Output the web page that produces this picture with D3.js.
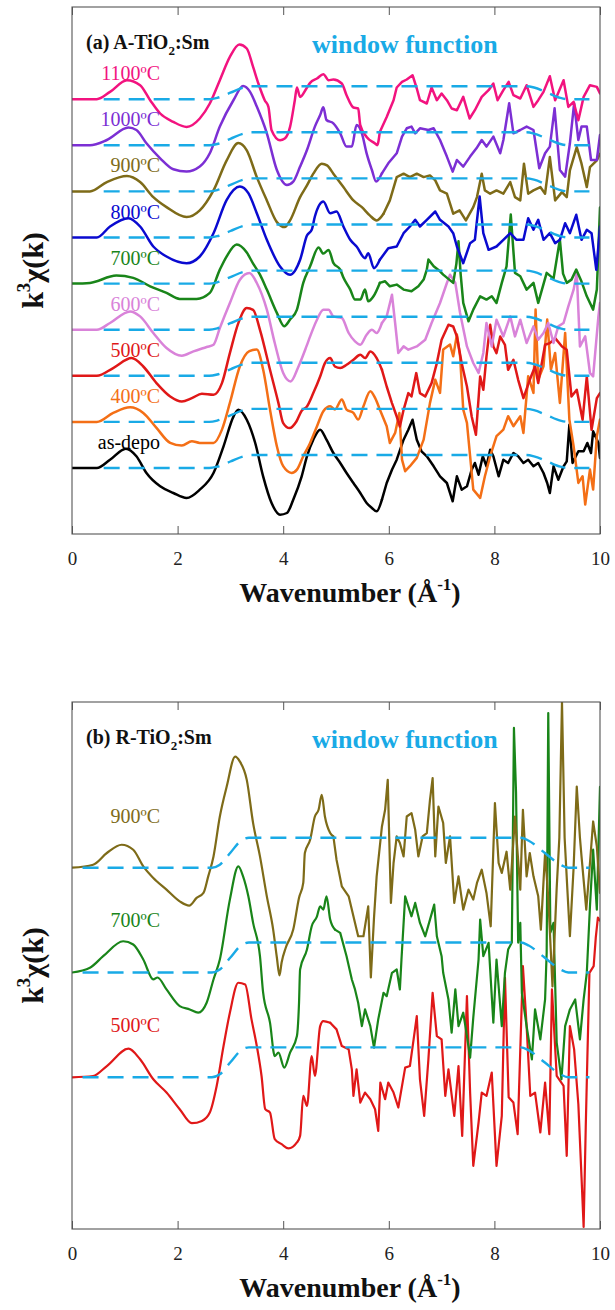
<!DOCTYPE html>
<html>
<head>
<meta charset="utf-8">
<script src="https://cdn.jsdelivr.net/npm/d3@7"></script>
<style>
  body { margin: 0; background: #fff; }
  svg { display: block; }
  text { font-family: 'Liberation Serif', 'Times New Roman', Times, serif; }
</style>
</head>
<body>
<svg id="chart" width="615" height="1310"></svg>
<script>
// ---------- data: [k (1/Å), k³χ(k) in arbitrary units] ----------
const kTicks = [0, 2, 4, 6, 8, 10];

// Hanning-type window function: [k, relative weight]
const windowFn = [[0.6,0],[2.6,0],[2.75,0.1],[3.0,0.5],[3.25,0.9],[3.4,1],[8.6,1],[8.75,0.9],[9.0,0.5],[9.25,0.1],[9.4,0],[9.8,0]];
const windowFnB = [[0.2,0],[2.65,0],[2.8,0.1],[3.0,0.5],[3.2,0.9],[3.35,1],[8.5,1],[8.65,0.9],[8.95,0.5],[9.25,0.1],[9.4,0],[9.8,0]];

// (a) anatase, bottom to top
const aLabels = ["as-depo", "400\u00baC", "500\u00baC", "600\u00baC", "700\u00baC", "800\u00baC", "900\u00baC", "1000\u00baC", "1100\u00baC"];

const aDepo = [[0,0],[0.47,0],[0.72,0.83],[1.02,1.93],[1.22,1.17],[1.41,-0.5],[1.67,-1.83],[1.92,-2.5],[2.17,-3.0],[2.42,-2.17],[2.68,-0.5],[2.87,2.17],[3.06,5.17],[3.15,5.83],[3.31,4.83],[3.47,2.5],[3.62,-0.83],[3.78,-3.5],[3.94,-4.67],[4.07,-4.5],[4.19,-3.17],[4.35,-0.83],[4.45,1.17],[4.57,2.83],[4.7,3.83],[4.82,2.83],[4.95,1.5],[5.08,0.5],[5.2,-0.5],[5.33,-1.5],[5.46,-2.5],[5.58,-3.5],[5.68,-4.0],[5.77,-4.33],[5.87,-3.17],[5.96,-1.5],[6.06,-0.17],[6.15,0.83],[6.28,2.83],[6.37,3.83],[6.45,4.83],[6.53,2.83],[6.62,1.67],[6.72,1.17],[6.85,0.17],[6.97,-0.83],[7.1,-1.5],[7.21,-3.33],[7.29,-0.83],[7.38,-2.17],[7.48,-1.83],[7.57,-0.17],[7.63,0.5],[7.7,-0.67],[7.78,1.17],[7.85,0.17],[7.92,1.83],[7.98,1.17],[8.08,-0.83],[8.17,0.83],[8.26,0.5],[8.36,1.5],[8.45,1.17],[8.55,0.5],[8.64,0.83],[8.74,0.17],[8.83,0.5],[8.93,-0.5],[9.0,-1.5],[9.05,-2.5],[9.12,0.17],[9.21,-1.17],[9.31,0.17],[9.37,0.67],[9.42,4.33],[9.48,0.5],[9.59,1.67],[9.69,1.67],[9.76,2.5],[9.83,1.5],[9.87,3.67],[9.97,2.5],[10,1.0]];

const a400 = [[0,0],[0.47,0],[0.78,0.9],[1.1,1.47],[1.35,0.9],[1.6,-0.6],[1.86,-2.1],[2.08,-2.37],[2.27,-1.93],[2.42,-2.1],[2.68,-2.1],[2.84,-0.77],[2.99,1.9],[3.18,5.57],[3.36,7.07],[3.5,7.23],[3.62,5.23],[3.75,1.23],[3.88,-2.43],[4.0,-4.43],[4.16,-5.1],[4.26,-4.77],[4.38,-3.43],[4.51,-2.1],[4.64,-0.43],[4.76,1.07],[4.89,1.57],[4.98,1.23],[5.11,2.23],[5.2,1.23],[5.33,0.9],[5.42,0.23],[5.52,1.57],[5.65,3.07],[5.74,2.4],[5.83,1.23],[5.96,-0.43],[6.02,-2.1],[6.12,-1.1],[6.2,0.9],[6.25,-3.77],[6.31,-4.93],[6.4,-4.43],[6.53,-3.6],[6.66,-1.77],[6.78,1.9],[6.88,4.23],[6.97,2.9],[7.03,7.23],[7.16,7.73],[7.22,6.57],[7.29,8.73],[7.35,6.57],[7.41,1.23],[7.48,-0.1],[7.54,-3.43],[7.6,-6.77],[7.73,-7.6],[7.82,-5.43],[7.92,-3.43],[8.04,-1.43],[8.17,-0.77],[8.26,0.57],[8.36,-0.43],[8.49,0.57],[8.55,-1.1],[8.64,4.57],[8.74,2.9],[8.78,11.23],[8.83,4.23],[8.93,5.57],[9.0,10.23],[9.07,5.23],[9.15,6.9],[9.24,1.9],[9.34,8.9],[9.42,0.23],[9.5,-2.43],[9.59,-6.1],[9.67,-5.43],[9.72,-8.27],[9.81,-4.77],[9.87,-6.77],[9.94,-1.43],[10,0.23]];

const a500 = [[0,0],[0.47,0],[0.78,0.77],[1.13,1.77],[1.35,0.93],[1.6,-0.73],[1.86,-2.07],[2.08,-2.57],[2.27,-2.23],[2.46,-1.8],[2.68,-1.9],[2.84,-0.73],[2.99,2.27],[3.15,5.27],[3.31,6.77],[3.43,6.6],[3.56,4.6],[3.75,0.6],[3.91,-2.73],[4.0,-4.73],[4.12,-5.23],[4.25,-4.57],[4.35,-3.5],[4.45,-3.07],[4.57,-1.73],[4.7,-0.07],[4.79,1.27],[4.89,1.77],[4.98,0.93],[5.08,0.77],[5.2,1.1],[5.33,1.6],[5.46,2.1],[5.55,1.77],[5.65,2.43],[5.77,1.77],[5.87,0.6],[5.96,-1.07],[6.06,-2.73],[6.15,-4.07],[6.21,-5.07],[6.28,-3.4],[6.37,-1.73],[6.43,-2.07],[6.52,0.27],[6.59,-1.73],[6.69,-2.07],[6.81,-0.73],[6.91,1.27],[7.0,3.6],[7.13,5.1],[7.22,4.93],[7.29,3.93],[7.38,1.27],[7.48,-1.07],[7.57,-4.07],[7.65,-5.9],[7.73,-0.07],[7.79,-1.4],[7.85,1.93],[7.92,5.1],[7.98,2.93],[8.04,2.27],[8.11,3.93],[8.2,3.1],[8.26,0.6],[8.36,1.6],[8.45,-0.4],[8.55,-2.23],[8.67,-0.4],[8.77,0.93],[8.83,-0.73],[8.96,3.1],[9.05,3.27],[9.15,3.77],[9.28,2.93],[9.37,2.6],[9.46,-2.07],[9.56,-1.4],[9.67,-4.4],[9.75,-0.07],[9.84,-5.4],[9.94,-2.23],[10,-1.73]];

const a600 = [[0,0],[0.47,0],[0.72,0.67],[1.1,1.83],[1.29,1.33],[1.54,-0.33],[1.79,-1.83],[2.08,-2.6],[2.3,-2.17],[2.55,-1.73],[2.68,-1.5],[2.8,0.17],[2.99,2.67],[3.18,5.0],[3.36,5.67],[3.5,4.67],[3.69,2.0],[3.84,-1.33],[4.0,-4.33],[4.14,-5.17],[4.29,-3.67],[4.44,-1.67],[4.51,-0.67],[4.64,1.0],[4.76,2.0],[4.86,2.0],[4.95,1.33],[5.11,1.17],[5.24,-0.33],[5.36,-1.17],[5.46,-1.5],[5.58,-0.5],[5.68,0],[5.77,-0.33],[5.87,0.67],[5.96,1.33],[6.06,3.5],[6.12,0.67],[6.18,-2.33],[6.28,-1.67],[6.37,-2.0],[6.53,-1.67],[6.69,-1.0],[6.81,0.67],[6.97,2.67],[7.1,4.67],[7.16,5.5],[7.26,4.67],[7.35,1.67],[7.48,-1.67],[7.6,-3.33],[7.7,-4.33],[7.79,-2.33],[7.85,0.67],[7.95,-1.67],[8.04,1.0],[8.17,-0.67],[8.3,1.33],[8.39,-0.67],[8.49,1.0],[8.61,-1.33],[8.74,0.33],[8.83,-1.0],[8.93,-0.33],[9.02,0.67],[9.12,-1.33],[9.21,0.33],[9.31,0.67],[9.4,2.33],[9.5,4.0],[9.56,5.7],[9.62,-1.67],[9.72,-0.67],[9.81,-4.33],[9.87,-4.67],[9.97,1.33],[10,2.67]];

const a700 = [[0,0],[0.34,0.07],[0.84,0.8],[1.16,0.57],[1.48,-0.27],[1.79,-0.93],[2.04,-1.53],[2.36,-1.53],[2.61,-0.93],[2.8,1.4],[2.93,2.73],[3.12,3.9],[3.31,3.1],[3.43,2.0],[3.56,0.9],[3.69,-0.6],[3.88,-2.93],[4.02,-4.27],[4.13,-3.6],[4.26,-2.6],[4.38,0.07],[4.51,1.73],[4.67,3.6],[4.76,3.0],[4.86,3.37],[4.95,2.07],[5.08,1.4],[5.14,0.6],[5.27,-0.6],[5.36,-1.6],[5.46,-1.6],[5.55,-0.6],[5.61,-1.77],[5.71,-1.27],[5.83,0.07],[5.93,0.23],[6.02,-0.27],[6.15,-0.1],[6.28,-0.6],[6.43,-0.77],[6.56,-0.27],[6.66,0.4],[6.72,1.4],[6.75,2.4],[6.85,1.73],[6.97,1.23],[7.03,0.9],[7.22,0.07],[7.28,2.0],[7.32,4.23],[7.36,1.0],[7.41,-1.93],[7.51,-3.77],[7.6,-2.6],[7.73,-1.27],[7.85,-1.6],[7.95,-1.27],[8.04,-1.93],[8.14,0.07],[8.23,1.73],[8.31,6.9],[8.39,1.07],[8.49,0.73],[8.61,-0.6],[8.74,0.07],[8.83,-1.93],[8.99,1.07],[9.12,0.5],[9.24,4.4],[9.3,1.0],[9.37,0.07],[9.46,0.4],[9.55,1.4],[9.65,0.2],[9.75,-1.27],[9.87,-2.6],[9.94,-0.6],[10,7.6]];

const a800 = [[0,0],[0.47,0],[0.72,1.1],[1.07,1.93],[1.29,1.1],[1.54,-0.9],[1.79,-1.9],[2.17,-2.57],[2.42,-1.9],[2.68,0.43],[2.93,3.77],[3.18,5.1],[3.34,4.43],[3.5,2.43],[3.69,-0.23],[3.94,-2.9],[4.13,-3.73],[4.32,-2.23],[4.45,0.2],[4.54,0.77],[4.6,2.1],[4.76,3.6],[4.89,2.43],[5.01,2.6],[5.14,1.1],[5.27,-0.23],[5.39,-0.9],[5.55,-2.07],[5.61,-1.57],[5.72,-3.07],[5.83,-2.23],[5.99,-1.07],[6.15,-0.9],[6.28,0.43],[6.4,1.1],[6.5,1.77],[6.59,1.1],[6.72,1.77],[6.88,2.6],[6.97,1.77],[7.13,1.1],[7.22,0.43],[7.29,-0.9],[7.41,-2.57],[7.54,-0.57],[7.63,-0.23],[7.72,4.1],[7.79,0.43],[7.89,-1.23],[8.04,-0.9],[8.17,-0.23],[8.3,0.43],[8.42,-0.23],[8.55,-0.23],[8.64,1.93],[8.74,0.77],[8.83,1.77],[8.93,-0.23],[9.05,0.43],[9.15,-0.57],[9.24,-0.23],[9.34,1.43],[9.43,0.43],[9.55,2.27],[9.65,-0.23],[9.75,0.77],[9.84,0.43],[9.93,-3.23],[9.98,-0.23],[10,1.1]];

const a900 = [[0,0],[0.34,0],[0.66,0.93],[1.04,1.53],[1.29,0.93],[1.54,-0.57],[1.79,-1.57],[2.17,-2.57],[2.42,-1.9],[2.68,0.1],[2.93,3.1],[3.15,4.83],[3.31,4.1],[3.5,1.43],[3.69,-0.9],[3.88,-3.07],[4.03,-3.57],[4.13,-2.9],[4.32,-0.57],[4.45,0.6],[4.57,1.77],[4.73,2.77],[4.83,2.6],[4.95,1.77],[5.14,0.43],[5.33,-0.9],[5.49,-1.57],[5.64,-2.4],[5.77,-2.9],[5.9,-2.23],[6.02,-0.9],[6.15,1.43],[6.28,1.77],[6.4,1.43],[6.53,1.77],[6.66,1.43],[6.78,1.6],[6.88,1.1],[6.97,0.1],[7.1,-0.23],[7.22,-2.23],[7.34,-1.9],[7.46,-2.9],[7.6,-1.57],[7.67,-0.57],[7.76,1.77],[7.82,0.1],[7.92,-0.23],[8.04,0.1],[8.17,-0.23],[8.3,0.93],[8.39,-0.57],[8.49,-0.9],[8.56,2.77],[8.64,-0.23],[8.74,0.1],[8.87,0.43],[8.96,-0.23],[9.05,3.43],[9.15,-0.9],[9.28,-0.07],[9.37,-0.57],[9.43,2.1],[9.56,4.43],[9.65,2.77],[9.75,0.43],[9.81,2.43],[9.94,3.1],[10,3.77]];

const a1000 = [[0,0],[0.34,0],[0.66,0.53],[1.07,1.77],[1.22,1.53],[1.41,0.2],[1.67,-1.3],[1.92,-2.4],[2.17,-2.63],[2.42,-2.13],[2.61,-0.8],[2.8,1.87],[3.06,4.53],[3.24,5.93],[3.37,5.37],[3.5,3.87],[3.69,1.2],[3.88,-2.47],[4.07,-3.97],[4.19,-3.63],[4.32,-2.13],[4.45,-0.47],[4.6,1.87],[4.7,3.03],[4.76,3.8],[4.82,2.53],[4.95,2.2],[5.08,1.2],[5.2,-0.13],[5.3,-0.13],[5.39,2.03],[5.49,1.2],[5.58,-0.8],[5.68,-2.47],[5.76,-3.63],[5.87,-2.8],[5.99,-1.8],[6.15,-0.8],[6.25,0.87],[6.34,1.7],[6.43,1.87],[6.5,1.2],[6.59,1.7],[6.75,1.53],[6.85,1.7],[6.97,0.53],[7.1,-1.13],[7.21,-2.63],[7.29,-1.47],[7.41,-2.13],[7.54,-1.13],[7.66,-0.3],[7.76,0.53],[7.85,-0.13],[7.98,0.87],[8.11,-0.8],[8.17,0.53],[8.28,4.2],[8.36,1.2],[8.49,1.53],[8.61,1.87],[8.74,1.53],[8.85,-2.3],[8.96,-0.8],[9.05,-0.13],[9.14,3.7],[9.24,-2.47],[9.34,-3.13],[9.43,0.2],[9.51,4.2],[9.59,0.53],[9.65,1.87],[9.75,1.87],[9.83,-1.47],[9.94,-1.47],[10,1.03]];

const a1100 = [[0,0],[0.47,0],[0.72,0.73],[1.04,1.9],[1.29,1.4],[1.48,-0.1],[1.67,-1.43],[1.92,-2.27],[2.17,-2.77],[2.42,-1.93],[2.61,-0.43],[2.8,1.9],[2.99,4.23],[3.17,5.47],[3.31,5.07],[3.43,3.23],[3.53,1.57],[3.65,-0.1],[3.72,-0.77],[3.78,-3.1],[3.94,-4.1],[4.03,-3.93],[4.13,-2.77],[4.22,-0.1],[4.26,1.17],[4.32,0.23],[4.44,1.07],[4.51,1.63],[4.64,2.07],[4.76,2.5],[4.86,1.9],[4.95,1.97],[5.11,1.57],[5.2,0.4],[5.33,-0.83],[5.42,-0.93],[5.46,-2.6],[5.58,-3.77],[5.74,-4.43],[5.78,-4.6],[5.83,-3.27],[5.96,-1.77],[6.09,-0.1],[6.15,1.17],[6.25,1.73],[6.34,1.97],[6.45,2.4],[6.53,1.07],[6.59,-0.1],[6.72,-0.43],[6.81,1.17],[6.91,-0.1],[7.0,0.57],[7.1,-0.1],[7.19,-0.93],[7.29,-1.1],[7.41,0.23],[7.53,-1.93],[7.63,-1.1],[7.76,0.23],[7.89,0.9],[7.98,1.57],[8.06,-0.1],[8.17,0.9],[8.27,1.73],[8.36,0.4],[8.49,0.07],[8.61,1.4],[8.74,-0.77],[8.83,-0.1],[8.93,0.73],[9.05,2.3],[9.15,-0.1],[9.31,1.9],[9.4,-0.77],[9.5,-0.27],[9.59,-2.1],[9.69,0.23],[9.81,1.4],[9.94,1.23],[10,0.57]];

// (b) rutile, bottom to top
const bLabels = ["500\u00baC", "700\u00baC", "900\u00baC"];

const b500 = [[0,0],[0.4,0.13],[0.66,1.13],[1.07,2.87],[1.29,1.8],[1.54,-0.2],[1.79,-1.53],[2.04,-3.2],[2.27,-4.6],[2.46,-4.37],[2.61,-3.53],[2.74,-0.87],[2.87,3.13],[2.99,6.47],[3.15,9.47],[3.28,9.3],[3.4,5.8],[3.5,3.13],[3.59,0.13],[3.66,-3.2],[3.75,-3.53],[3.84,-6.2],[3.97,-6.7],[4.1,-7.13],[4.26,-6.53],[4.32,-5.87],[4.38,-1.87],[4.45,-2.87],[4.54,2.13],[4.6,0.13],[4.7,5.13],[4.76,5.63],[4.89,5.47],[5.01,4.8],[5.11,3.13],[5.24,2.8],[5.3,0.8],[5.33,-1.87],[5.39,0.8],[5.46,-2.53],[5.55,-1.53],[5.65,-2.2],[5.74,-3.2],[5.8,-5.37],[5.84,-0.53],[5.93,-2.2],[5.99,-0.53],[6.09,-1.53],[6.18,-3.03],[6.31,0.97],[6.4,1.13],[6.47,3.8],[6.53,6.13],[6.59,-0.2],[6.67,-3.87],[6.75,1.8],[6.83,8.47],[6.91,4.13],[7.0,3.8],[7.07,-1.87],[7.13,0.8],[7.24,-3.87],[7.32,1.13],[7.39,-5.87],[7.48,8.13],[7.54,-1.53],[7.6,-8.87],[7.7,-4.53],[7.76,-1.53],[7.85,-1.87],[7.95,0.47],[8.04,-8.87],[8.14,-3.87],[8.2,10.0],[8.27,-2.0],[8.36,-2.53],[8.44,-5.7],[8.54,11.13],[8.61,5.13],[8.68,-1.87],[8.77,-1.53],[8.87,-5.53],[8.96,-0.53],[9.04,-5.7],[9.09,8.8],[9.18,0.13],[9.31,-0.87],[9.37,-7.87],[9.43,5.13],[9.51,2.8],[9.59,-2.7],[9.65,-10.0],[9.69,-15.0],[9.73,-5.0],[9.76,1.8],[9.8,10.47],[9.88,11.13],[9.92,14.0],[9.96,16.0],[10,15.7]];

const b700 = [[0,0],[0.34,0.47],[0.59,1.63],[0.97,3.13],[1.16,2.8],[1.35,1.3],[1.54,-0.7],[1.62,-0.5],[1.79,-1.7],[2.04,-3.37],[2.23,-3.7],[2.39,-4.03],[2.55,-3.03],[2.68,-0.7],[2.8,1.3],[2.99,7.3],[3.15,10.63],[3.24,9.63],[3.34,7.63],[3.43,4.97],[3.56,1.63],[3.62,-2.03],[3.75,-5.03],[3.84,-8.37],[3.91,-8.03],[4.02,-9.53],[4.13,-8.03],[4.26,-6.37],[4.3,-3.0],[4.32,0.3],[4.45,2.3],[4.54,4.63],[4.64,5.63],[4.7,6.63],[4.76,6.3],[4.82,7.63],[4.89,5.3],[4.98,4.3],[5.08,3.97],[5.2,1.63],[5.3,-0.7],[5.36,-1.7],[5.42,-3.03],[5.49,-5.37],[5.55,-3.7],[5.65,-5.37],[5.72,-7.53],[5.8,-4.7],[5.9,-2.03],[5.96,-2.37],[6.06,-0.03],[6.15,0.3],[6.21,-1.7],[6.24,1.3],[6.31,7.63],[6.37,6.63],[6.43,5.63],[6.5,6.97],[6.59,4.97],[6.69,3.63],[6.78,5.3],[6.86,6.8],[6.91,3.63],[7.0,1.63],[7.03,-0.03],[7.13,-2.7],[7.19,-6.03],[7.26,-1.7],[7.32,-5.37],[7.41,-4.03],[7.48,-6.37],[7.54,-8.53],[7.6,-4.53],[7.7,1.3],[7.73,5.3],[7.79,1.63],[7.89,2.97],[7.98,-5.03],[8.04,1.3],[8.14,-5.37],[8.2,-0.03],[8.26,2.3],[8.33,3.0],[8.37,24.5],[8.41,18.0],[8.45,3.0],[8.49,4.97],[8.52,-2.03],[8.61,-5.37],[8.71,-8.7],[8.77,-3.7],[8.87,-6.7],[8.96,-2.7],[8.99,2.0],[9.02,26.0],[9.06,4.0],[9.12,4.97],[9.18,-7.03],[9.27,-10.7],[9.34,-5.37],[9.43,-3.7],[9.53,-2.7],[9.62,-6.7],[9.69,-2.7],[9.75,-0.03],[9.81,6.63],[9.87,12.3],[9.94,6.3],[10,18.6]];

const b900 = [[0,0],[0.4,0.3],[0.66,1.47],[0.94,2.3],[1.16,1.8],[1.35,0.13],[1.54,-1.03],[1.79,-2.2],[2.04,-3.37],[2.22,-3.8],[2.36,-3.03],[2.49,-2.53],[2.58,-0.87],[2.68,1.13],[2.8,5.13],[2.93,8.13],[3.09,11.13],[3.18,10.63],[3.31,8.8],[3.43,4.47],[3.56,1.13],[3.69,-2.87],[3.81,-6.2],[3.88,-9.0],[3.93,-10.8],[3.97,-9.5],[4.05,-8.0],[4.19,-6.2],[4.3,-3.0],[4.38,-1.53],[4.41,1.47],[4.51,2.8],[4.6,5.13],[4.67,5.8],[4.73,7.3],[4.79,5.13],[4.89,3.47],[4.95,3.13],[5.01,0.8],[5.11,-1.87],[5.24,-2.87],[5.33,-4.87],[5.42,-6.87],[5.52,-6.87],[5.61,-3.87],[5.66,-11.0],[5.72,-5.0],[5.77,-0.87],[5.87,4.13],[5.93,5.8],[5.98,8.8],[6.04,-3.53],[6.09,0.47],[6.15,3.13],[6.21,2.47],[6.28,1.13],[6.34,5.13],[6.43,5.47],[6.5,3.8],[6.56,1.13],[6.64,3.13],[6.72,3.47],[6.78,6.8],[6.83,8.97],[6.88,1.13],[6.94,6.13],[7.03,4.47],[7.08,0.47],[7.16,3.13],[7.24,-3.53],[7.32,-0.87],[7.41,-4.2],[7.51,-2.2],[7.6,-3.2],[7.67,-1.53],[7.76,-0.2],[7.85,-2.53],[7.93,-5.87],[8.01,6.47],[8.08,0.47],[8.14,-0.53],[8.23,1.6],[8.3,-2.2],[8.39,5.13],[8.49,-2.2],[8.54,5.8],[8.61,-0.87],[8.67,1.47],[8.74,-0.87],[8.83,-2.87],[8.88,-6.2],[8.96,1.47],[9.02,-3.0],[9.1,-11.9],[9.18,-2.0],[9.23,3.0],[9.28,16.6],[9.33,3.0],[9.38,-2.0],[9.43,-6.87],[9.5,0],[9.56,8.13],[9.62,3.0],[9.65,1.13],[9.74,-4.2],[9.81,0.47],[9.87,4.63],[9.94,2.13],[10,-2.53]];

// ---------- styles ----------
const serif = "'Liberation Serif','Times New Roman',Times,serif";
const winColor = "#19aae6";
const aColors = ["#000000", "#f46f16", "#e01818", "#d983d9", "#198519", "#0a0ad0", "#7e6b18", "#7c2fd4", "#f2137f"];
const bColors = ["#e01818", "#198519", "#7e6b18"];

const panels = [
  {
    title: "(a) A-TiO", series: [aDepo, a400, a500, a600, a700, a800, a900, a1000, a1100],
    labels: aLabels, colors: aColors, win: windowFn,
    step: 4.61, winHeight: 1.3, yDomain: [-6.6, 46.1], smoothUpTo: 5.9,
    top: 7, bottom: 534, labelLift: 19, lineWidth: 2.5
  },
  {
    title: "(b) R-TiO", series: [b500, b700, b900],
    labels: bLabels, colors: bColors, win: windowFnB,
    step: 10.5, winHeight: 3.0, yDomain: [-15.2, 37.6], smoothUpTo: 5.0,
    top: 702, bottom: 1229, labelLift: 45, lineWidth: 2.2
  }
];

const svg = d3.select("#chart");
const x = d3.scaleLinear().domain([0, 10]).range([72, 600]);

panels.forEach((p, pi) => {
  const y = d3.scaleLinear().domain(p.yDomain).range([p.bottom, p.top]);
  const g = svg.append("g");

  g.append("clipPath").attr("id", "clip" + pi)
    .append("rect").attr("x", 72).attr("y", p.top)
    .attr("width", 528).attr("height", p.bottom - p.top);

  const plot = g.append("g").attr("clip-path", `url(#clip${pi})`);

  // spectra, offset vertically: smooth low-k oscillations, raw noisy high-k part
  p.series.forEach((s, i) => {
    const off = i * p.step;
    const smooth = d3.line().curve(d3.curveMonotoneX).x(d => x(d[0])).y(d => y(d[1] + off));
    const raw = d3.line().x(d => x(d[0])).y(d => y(d[1] + off));
    const lo = s.filter(d => d[0] <= p.smoothUpTo);
    const hi = s.filter(d => d[0] >= lo[lo.length - 1][0]);
    [smooth(lo), raw(hi)].forEach(dstr => {
      plot.append("path")
        .attr("d", dstr)
        .attr("fill", "none")
        .attr("stroke", p.colors[i])
        .attr("stroke-width", p.lineWidth)
        .attr("stroke-linejoin", "round")
        .attr("stroke-linecap", "round");
    });
  });

  // window function drawn over each spectrum's baseline
  p.series.forEach((s, i) => {
    const off = i * p.step;
    const wl = d3.line().curve(d3.curveMonotoneX)
      .x(d => x(d[0])).y(d => y(d[1] * p.winHeight + off));
    plot.append("path")
      .attr("d", wl(p.win))
      .attr("fill", "none")
      .attr("stroke", winColor)
      .attr("stroke-width", 2.4)
      .attr("stroke-dasharray", "16,9");
  });

  // temperature labels
  p.series.forEach((s, i) => {
    const off = i * p.step;
    g.append("text")
      .attr("x", 160).attr("y", y(off) - p.labelLift)
      .attr("text-anchor", "end")
      .style("font-family", serif).attr("font-size", 20)
      .attr("fill", p.colors[i])
      .text(p.labels[i]);
  });

  // frame
  g.append("rect").attr("x", 72).attr("y", p.top)
    .attr("width", 528).attr("height", p.bottom - p.top)
    .attr("fill", "none").attr("stroke", "#555").attr("stroke-width", 1.1);

  // bottom axis with inward ticks
  const axB = g.append("g").attr("transform", `translate(0,${p.bottom})`)
    .call(d3.axisBottom(x).tickValues(kTicks).tickSize(-8).tickPadding(0).tickSizeOuter(0));
  axB.select(".domain").remove();
  axB.selectAll(".tick line").attr("stroke", "#555");
  axB.selectAll(".tick text")
    .style("font-family", serif).style("font-size", "19px").attr("fill", "#222")
    .attr("dy", null).attr("y", 31);

  // top ticks
  const axT = g.append("g").attr("transform", `translate(0,${p.top})`)
    .call(d3.axisTop(x).tickValues(kTicks).tickSize(-8).tickFormat("").tickSizeOuter(0));
  axT.select(".domain").remove();
  axT.selectAll(".tick line").attr("stroke", "#555");

  // panel title
  const t = g.append("text").attr("x", 86).attr("y", p.top + 42)
    .style("font-family", serif).attr("font-size", 20).attr("font-weight", "bold").attr("fill", "#111");
  t.append("tspan").text(p.title);
  t.append("tspan").attr("font-size", 13).attr("dy", 6).text("2");
  t.append("tspan").attr("dy", -6).text(":Sm");

  // window function legend text
  g.append("text").attr("x", 312).attr("y", p.top + 46)
    .style("font-family", serif).attr("font-size", 26).attr("font-weight", "bold")
    .attr("fill", winColor).text("window function");

  // y axis title
  const cy = (p.top + p.bottom) / 2;
  const yt = g.append("text")
    .attr("transform", `translate(43,${cy}) rotate(-90)`)
    .attr("text-anchor", "middle")
    .style("font-family", serif).attr("font-size", 30).attr("font-weight", "bold").attr("fill", "#111");
  yt.append("tspan").text("k");
  yt.append("tspan").attr("font-size", 19).attr("dy", -13).text("3");
  yt.append("tspan").attr("dy", 13).text("\u03c7(k)");

  // x axis title
  const xt = g.append("text")
    .attr("x", 350).attr("y", p.bottom + 68)
    .attr("text-anchor", "middle")
    .style("font-family", serif).attr("font-size", 28).attr("font-weight", "bold").attr("fill", "#111");
  xt.append("tspan").text("Wavenumber (\u00c5");
  xt.append("tspan").attr("font-size", 17).attr("dy", -12).text("-1");
  xt.append("tspan").attr("dy", 12).text(")");
});
</script>
</body>
</html>
